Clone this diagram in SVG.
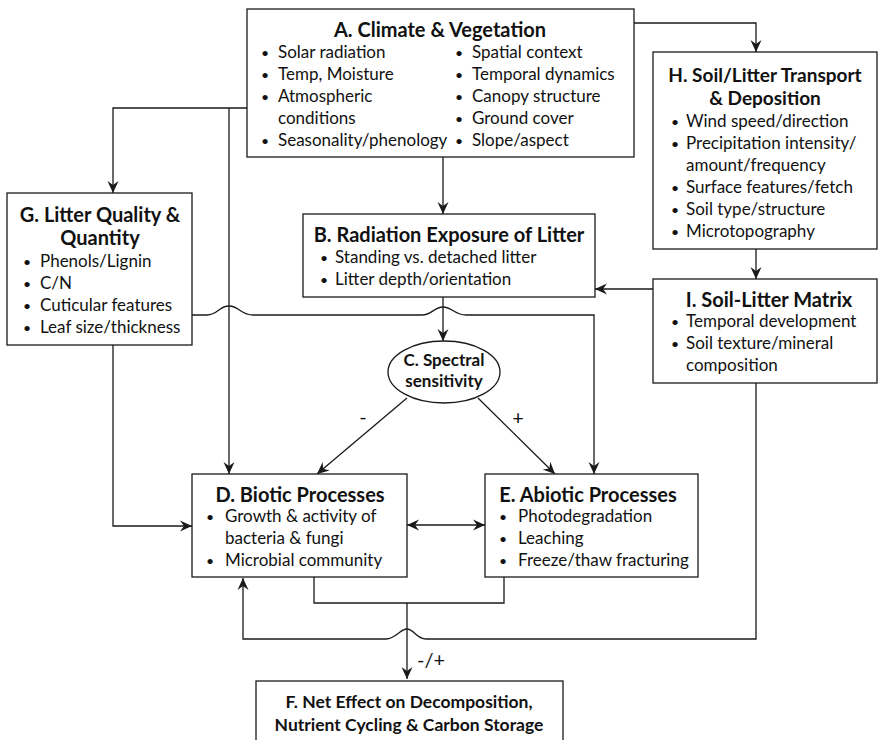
<svg xmlns="http://www.w3.org/2000/svg" width="880" height="740" viewBox="0 0 880 740">
<style>
  .box { fill: #fff; stroke: #1a1a1a; stroke-width: 1.3; }
  .t { font-family: Lato, "Open Sans", sans-serif; font-weight: bold; font-size: 20px; fill: #111; text-anchor: middle; }
  .th { font-family: Lato, "Open Sans", sans-serif; font-weight: bold; font-size: 19px; fill: #111; text-anchor: middle; }
  .tf { font-family: Lato, "Open Sans", sans-serif; font-weight: bold; font-size: 17.5px; fill: #111; text-anchor: middle; }
  .ct { font-family: Lato, "Open Sans", sans-serif; font-weight: bold; font-size: 17px; fill: #111; text-anchor: middle; }
  .b { font-family: Lato, "Open Sans", sans-serif; font-size: 17px; fill: #111; }
  .d { font-family: Lato, "Open Sans", sans-serif; font-size: 14px; fill: #111; }
  .lbl { font-family: Lato, "Open Sans", sans-serif; font-size: 20px; fill: #111; text-anchor: middle; }
  .c { fill: none; stroke: #1a1a1a; stroke-width: 1.3; }
  .a { marker-end: url(#arr); }
</style>
<defs>
  <marker id="arr" markerUnits="userSpaceOnUse" markerWidth="13" markerHeight="13" refX="12" refY="6" orient="auto">
    <path d="M0,0.5 L12,6 L0,11.5 L4,6 z" fill="#1a1a1a"/>
  </marker>
  <marker id="arrs" markerUnits="userSpaceOnUse" markerWidth="13" markerHeight="13" refX="0" refY="6" orient="auto">
    <path d="M12,0.5 L0,6 L12,11.5 L8,6 z" fill="#1a1a1a"/>
  </marker>
</defs>
<rect width="880" height="740" fill="#fff"/>

<g id="connectors">
  <path class="c a" d="M634,23 H756 V52"/>
  <path class="c a" d="M247,108 H113 V193"/>
  <path class="c a" d="M229,108 V474"/>
  <path class="c a" d="M443,157 V214"/>
  <path class="c a" d="M756,249 V279"/>
  <path class="c a" d="M653,289 H595"/>
  <path class="c a" d="M443,297 V341"/>
  <path class="c a" d="M192,315 H207 C218,315 219,306 229,306 C239,306 241,315 253,315 H422 C432,315 434,307 443,307 C452,307 455,315 466,315 H594 V474"/>
  <path class="c a" d="M113,345 V526 H192"/>
  <path class="c a" d="M407,398 L317,474"/>
  <path class="c a" d="M478,398 L555,474"/>
  <path class="c" d="M407,525 H485" marker-start="url(#arrs)" marker-end="url(#arr)"/>
  <path class="c" d="M314,577 V603 H504 V577"/>
  <path class="c a" d="M407,603 V679"/>
  <path class="c a" d="M756,383 V639 H426 C416,639 414,629 407,629 C400,629 396,639 386,639 H243 V578"/>
  <text class="lbl" x="363" y="424">-</text>
  <text class="lbl" x="518" y="425">+</text>
  <text class="lbl" x="431" y="667">-/+</text>
</g>

<g id="nodeA">
  <rect class="box" x="247" y="9" width="387" height="148"/>
  <text class="t" x="440" y="37">A. Climate &amp; Vegetation</text>
  <text class="d" x="261" y="58">•</text><text class="b" x="278" y="58">Solar radiation</text>
  <text class="d" x="261" y="80">•</text><text class="b" x="278" y="80">Temp, Moisture</text>
  <text class="d" x="261" y="102">•</text><text class="b" x="278" y="102">Atmospheric</text>
  <text class="b" x="278" y="124">conditions</text>
  <text class="d" x="261" y="146">•</text><text class="b" x="278" y="146">Seasonality/phenology</text>
  <text class="d" x="455" y="58">•</text><text class="b" x="472" y="58">Spatial context</text>
  <text class="d" x="455" y="80">•</text><text class="b" x="472" y="80">Temporal dynamics</text>
  <text class="d" x="455" y="102">•</text><text class="b" x="472" y="102">Canopy structure</text>
  <text class="d" x="455" y="124">•</text><text class="b" x="472" y="124">Ground cover</text>
  <text class="d" x="455" y="146">•</text><text class="b" x="472" y="146">Slope/aspect</text>
</g>

<g id="nodeH">
  <rect class="box" x="653" y="52" width="224" height="197"/>
  <text class="th" x="765" y="82">H. Soil/Litter Transport</text>
  <text class="th" x="765" y="105">&amp; Deposition</text>
  <text class="d" x="671" y="127">•</text><text class="b" x="686" y="127">Wind speed/direction</text>
  <text class="d" x="671" y="149">•</text><text class="b" x="686" y="149">Precipitation intensity/</text>
  <text class="b" x="686" y="171">amount/frequency</text>
  <text class="d" x="671" y="193">•</text><text class="b" x="686" y="193">Surface features/fetch</text>
  <text class="d" x="671" y="215">•</text><text class="b" x="686" y="215">Soil type/structure</text>
  <text class="d" x="671" y="237">•</text><text class="b" x="686" y="237">Microtopography</text>
</g>

<g id="nodeI">
  <rect class="box" x="653" y="279" width="224" height="104"/>
  <text class="t" x="769" y="307">I. Soil-Litter Matrix</text>
  <text class="d" x="671" y="327">•</text><text class="b" x="686" y="327">Temporal development</text>
  <text class="d" x="671" y="349">•</text><text class="b" x="686" y="349">Soil texture/mineral</text>
  <text class="b" x="686" y="371">composition</text>
</g>

<g id="nodeB">
  <rect class="box" x="303" y="214" width="292" height="83"/>
  <text class="t" x="449" y="242">B. Radiation Exposure of Litter</text>
  <text class="d" x="320" y="263">•</text><text class="b" x="335" y="263">Standing vs. detached litter</text>
  <text class="d" x="320" y="285">•</text><text class="b" x="335" y="285">Litter depth/orientation</text>
</g>

<g id="nodeG">
  <rect class="box" x="7" y="193" width="185" height="152"/>
  <text class="t" x="100" y="222">G. Litter Quality &amp;</text>
  <text class="t" x="100" y="245">Quantity</text>
  <text class="d" x="23" y="267">•</text><text class="b" x="40" y="267">Phenols/Lignin</text>
  <text class="d" x="23" y="289">•</text><text class="b" x="40" y="289">C/N</text>
  <text class="d" x="23" y="311">•</text><text class="b" x="40" y="311">Cuticular features</text>
  <text class="d" x="23" y="333">•</text><text class="b" x="40" y="333">Leaf size/thickness</text>
</g>

<g id="nodeC">
  <ellipse class="box" cx="444" cy="372" rx="56" ry="31"/>
  <text class="ct" x="444" y="366">C. Spectral</text>
  <text class="ct" x="444" y="387">sensitivity</text>
</g>

<g id="nodeD">
  <rect class="box" x="192" y="474" width="215" height="103"/>
  <text class="t" x="300" y="502">D. Biotic Processes</text>
  <text class="d" x="206" y="522">•</text><text class="b" x="225" y="522">Growth &amp; activity of</text>
  <text class="b" x="225" y="544">bacteria &amp; fungi</text>
  <text class="d" x="206" y="566">•</text><text class="b" x="225" y="566">Microbial community</text>
</g>

<g id="nodeE">
  <rect class="box" x="485" y="474" width="213" height="103"/>
  <text class="t" x="588" y="502">E. Abiotic Processes</text>
  <text class="d" x="499" y="522">•</text><text class="b" x="518" y="522">Photodegradation</text>
  <text class="d" x="499" y="544">•</text><text class="b" x="518" y="544">Leaching</text>
  <text class="d" x="499" y="566">•</text><text class="b" x="518" y="566">Freeze/thaw fracturing</text>
</g>

<g id="nodeF">
  <rect class="box" x="256" y="681" width="307" height="70"/>
  <text class="tf" x="409" y="708">F. Net Effect on Decomposition,</text>
  <text class="tf" x="409" y="731">Nutrient Cycling &amp; Carbon Storage</text>
</g>
</svg>
